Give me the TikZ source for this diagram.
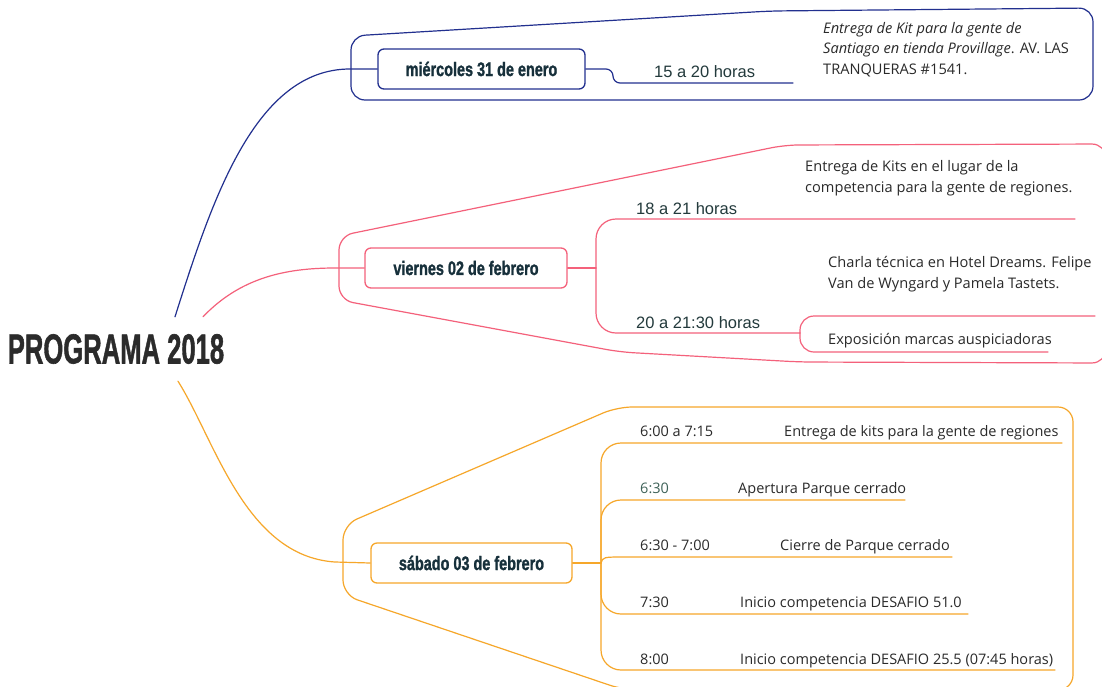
\documentclass[tikz,border=0pt]{standalone}
\usepackage{fontspec}
\setmainfont{Open Sans}
\newfontfamily\arialf{Liberation Sans}
\newfontfamily\headf[FakeBold=1.5]{Liberation Sans}
\usetikzlibrary{calc}
\definecolor{nv}{HTML}{22308F}
\definecolor{pk}{HTML}{F4617B}
\definecolor{og}{HTML}{F6A72A}
\definecolor{hd}{HTML}{17303B}
\definecolor{tx}{HTML}{2A2A2A}
\definecolor{tm}{HTML}{233A3C}
\definecolor{gr}{HTML}{3E6258}
\definecolor{rt}{HTML}{2B2B2B}
\begin{document}
\begin{tikzpicture}[x=1pt,y=-1pt,
  br/.style={line width=1.2pt, line cap=round, line join=round},
  headbox/.style={draw, fill=white, rounded corners=6pt, line width=1.3pt, minimum height=40pt, inner sep=0pt, text=hd, font=\headf\bfseries\fontsize{19.5}{19.5}\selectfont},
  desc/.style={anchor=base west, inner sep=0pt, text=tx, font=\fontsize{14.6}{20.5}\selectfont, align=left},
  tlab/.style={anchor=base west, inner sep=0pt, text=tm, font=\arialf\fontsize{16.5}{18}\selectfont},
  olab/.style={anchor=base west, inner sep=0pt, text=tx, font=\fontsize{14.5}{16}\selectfont},
]
\clip (0,0) rectangle (1102,686);
\fill[white] (0,0) rectangle (1102,686);

% group outlines
\draw[nv,br,rounded corners=14pt] (351,69) -- (351,36) -- (770,11) -- (1093,8) -- (1093,100) -- (351,100) -- cycle;
\draw[pk,br,rounded corners=14pt] (339,268) -- (339,236) -- (785,145) -- (1106,144) -- (1106,363) -- (800,362) -- (620,352) -- (339,300) -- cycle;
\draw[og,br,rounded corners=15pt] (343,560) -- (343,525) -- (617,407) -- (1073,407) -- (1073,690) -- (624,690) -- (343,595) -- cycle;

% nodes
\node[inner sep=0pt, minimum width=216pt, minimum height=64pt, text=rt, font=\headf\bfseries\fontsize{42}{42}\selectfont] (root) at (116,349) {\scalebox{0.61}[1]{PROGRAMA 2018}};
\node[headbox, draw=nv, minimum width=207pt] (h1) at (481.5,69) {\scalebox{0.74}[1]{miércoles 31 de enero}};
\node[headbox, draw=pk, minimum width=202pt] (h2) at (466,268) {\scalebox{0.74}[1]{viernes 02 de febrero}};
\node[headbox, draw=og, minimum width=201pt] (h3) at (471.5,563) {\scalebox{0.74}[1]{sábado 03 de febrero}};

% main connectors
\draw[nv,br] ($(root.north)+(59,0)$) .. controls (212,200) and (255,69) .. (350,69) -- (h1.west);
\draw[pk,br] ($(root.north)+(87,0)$) .. controls (240,278) and (285,268) .. (335,268) -- (h2.west);
\draw[og,br] ($(root.south)+(62,0)$) .. controls (215,440) and (245,556) .. (335,562) -- (h3.west);

% navy branch
\draw[nv,br,rounded corners=7pt] (h1.east) -- (613,69) -- (613,83) -- (793,83);
\node[tlab] (t1) at (654,77) {15 a 20 horas};
\node[desc] (d1) at (823,74) {\textit{Entrega de Kit para la gente de}\\\textit{Santiago en tienda Provillage}. AV. LAS\\TRANQUERAS \#1541.};

% pink branches
\coordinate (ps) at (596,268);
\draw[pk,br] (h2.east) -- (ps);
\draw[pk,br,rounded corners=20pt] (ps) -- (596,219) -- (1075,219);
\draw[pk,br,rounded corners=20pt] (ps) -- (596,333) -- (800,333);
\coordinate (pf) at (800,333);
\draw[pk,br,rounded corners=14pt] (pf) -- (800,316) -- (1095,316);
\draw[pk,br,rounded corners=14pt] (pf) -- (800,352) -- (1048,352);
\node[tlab] (t2) at (636,214) {18 a 21 horas};
\node[tlab] (t3) at (636,328) {20 a 21:30 horas};
\node[desc] (d2) at (805,192) {Entrega de Kits en el lugar de la\\competencia para la gente de regiones.};
\node[desc] (d3) at (828,288) {Charla técnica en Hotel Dreams. Felipe\\Van de Wyngard y Pamela Tastets.};
\node[desc] (d4) at (828,344) {Exposición marcas auspiciadoras};

% orange branches
\coordinate (os) at (601,563);
\draw[og,br] (h3.east) -- (os);
\draw[og,br,rounded corners=20pt] (os) -- (601,443) -- (1062,443);
\draw[og,br,rounded corners=20pt] (os) -- (601,500) -- (905,500);
\draw[og,br] (os) .. controls (603,557) .. (625,557) -- (952,557);
\draw[og,br,rounded corners=20pt] (os) -- (601,614) -- (968,614);
\draw[og,br,rounded corners=20pt] (os) -- (601,670) -- (1055,670);
\node[olab] (o1) at (640,436) {6:00 a 7:15};
\node[olab, text=gr] (o2) at (640,493) {6:30};
\node[olab] (o3) at (640,550) {6:30 - 7:00};
\node[olab] (o4) at (640,607) {7:30};
\node[olab] (o5) at (640,664) {8:00};
\node[olab] (e1) at (784,436) {Entrega de kits para la gente de regiones};
\node[olab] (e2) at (738,493) {Apertura Parque cerrado};
\node[olab] (e3) at (780,550) {Cierre de Parque cerrado};
\node[olab] (e4) at (740,607) {Inicio competencia DESAFIO 51.0};
\node[olab] (e5) at (740,664) {Inicio competencia DESAFIO 25.5 (07:45 horas)};
\end{tikzpicture}
\end{document}
